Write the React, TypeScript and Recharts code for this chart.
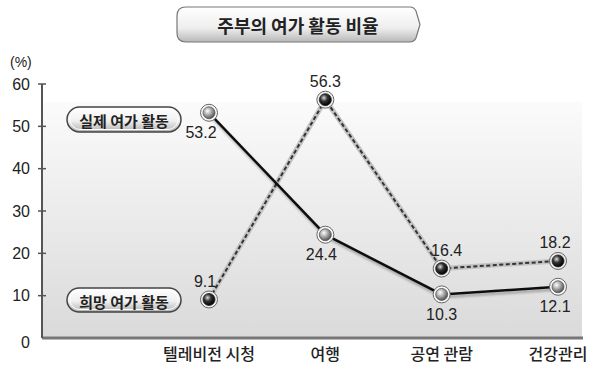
import { LineChart, Line, XAxis, YAxis, LabelList } from "recharts"

const categories = ["텔레비전 시청", "여행", "공연 관람", "건강관리"]
const actual = [53.2, 24.4, 10.3, 12.1]
const desired = [9.1, 56.3, 16.4, 18.2]
const yTicks = [0, 10, 20, 30, 40, 50, 60]

const title = "주부의 여가 활동 비율"
const actualName = "실제 여가 활동"
const desiredName = "희망 여가 활동"

// small horizontal nudges for value labels
const actualDx = [-8, -4, 0, -3]
const desiredDx = [-4, 0, 5, -3]

const data = categories.map((name, i) => ({
  name,
  actual: actual[i],
  desired: desired[i],
}))

const numFont = "'Liberation Sans', Arial, sans-serif"
const krFont = "'Noto Sans CJK KR', 'Noto Sans', sans-serif"

function YTick({ x, y, payload }: any) {
  const v = payload.value
  return (
    <g>
      {v !== 0 && <line x1={x - 4} x2={x + 4} y1={y} y2={y} stroke="#555" strokeWidth={1.5} />}
      <text
        x={x - 12}
        y={v === 0 ? y + 4 : y}
        textAnchor="end"
        dominantBaseline="central"
        fontSize={16}
        fontFamily={numFont}
        fill="#222"
      >
        {v}
      </text>
    </g>
  )
}

function XTick({ x, y, payload }: any) {
  return (
    <text
      x={x}
      y={y + 15}
      textAnchor="middle"
      dominantBaseline="central"
      fontSize={16}
      fontWeight={500}
      fontFamily={krFont}
      fill="#222"
    >
      {payload.value}
    </text>
  )
}

function ActualDot({ cx, cy }: any) {
  return (
    <g>
      <circle cx={cx} cy={cy} r={8.5} fill="#fafafa" stroke="#666" strokeWidth={1} />
      <circle cx={cx} cy={cy} r={6} fill="url(#sphereLight)" stroke="#555" strokeWidth={0.8} />
    </g>
  )
}

function DesiredDot({ cx, cy }: any) {
  return (
    <g>
      <circle cx={cx} cy={cy} r={8.5} fill="#eee" stroke="#666" strokeWidth={1} />
      <circle cx={cx} cy={cy} r={6} fill="url(#sphereDark)" stroke="#222" strokeWidth={0.8} />
    </g>
  )
}

function makeLabel(below: boolean, dxs: number[]) {
  return (props: any) => {
    const { x, y, value, index } = props
    return (
      <text
        x={x + (dxs[index] ?? 0)}
        y={below ? y + 20 : y - 18}
        textAnchor="middle"
        dominantBaseline="central"
        fontSize={16}
        fontFamily={numFont}
        fill="#222"
      >
        {String(value)}
      </text>
    )
  }
}

function Pill({ x, y, w, h, text }: { x: number; y: number; w: number; h: number; text: string }) {
  return (
    <g>
      <rect x={x} y={y} width={w} height={h} rx={h / 2} fill="url(#pillGrad)" stroke="#444" strokeWidth={1.5} />
      <rect x={x + 3} y={y + 2.5} width={w - 6} height={h - 5} rx={(h - 5) / 2} fill="none" stroke="#fff" strokeWidth={1} />
      <text
        x={x + w / 2}
        y={y + h / 2 + 1}
        textAnchor="middle"
        dominantBaseline="central"
        fontSize={15}
        fontWeight="bold"
        fontFamily={krFont}
        fill="#222"
      >
        {text}
      </text>
    </g>
  )
}

export default function App() {
  return (
    <div style={{ position: "relative", width: 600, height: 376, background: "#fff" }}>
      <style>{"body{margin:0}"}</style>
      {/* plot background panel */}
      <svg width={600} height={376} style={{ position: "absolute", left: 0, top: 0 }}>
        <defs>
          <linearGradient id="bgGrad" x1="0" y1="0" x2="0" y2="1">
            <stop offset="0%" stopColor="#fbfbfb" />
            <stop offset="100%" stopColor="#dadada" />
          </linearGradient>
        </defs>
        <rect x={43} y={102} width={539} height={235} fill="url(#bgGrad)" />
      </svg>
      <div style={{ position: "absolute", left: 0, top: 0 }}>
        <LineChart width={600} height={376} data={data} margin={{ top: 84, right: 17, bottom: 0, left: 0 }}>
          <defs>
            <radialGradient id="sphereLight" cx="38%" cy="35%" r="65%">
              <stop offset="0%" stopColor="#fff" />
              <stop offset="60%" stopColor="#999" />
              <stop offset="100%" stopColor="#555" />
            </radialGradient>
            <radialGradient id="sphereDark" cx="38%" cy="35%" r="65%">
              <stop offset="0%" stopColor="#ddd" />
              <stop offset="45%" stopColor="#333" />
              <stop offset="100%" stopColor="#000" />
            </radialGradient>
            <filter id="lineShadow" x="-10%" y="-10%" width="120%" height="130%">
              <feDropShadow dx="1" dy="2.5" stdDeviation="1" floodColor="#000" floodOpacity="0.3" />
            </filter>
          </defs>
          <XAxis
            dataKey="name"
            height={38}
            padding={{ left: 167, right: 25 }}
            axisLine={{ stroke: "#777", strokeWidth: 3 }}
            tickLine={false}
            tickSize={0}
            tickMargin={0}
            tick={<XTick />}
            interval={0}
          />
          <YAxis
            width={42}
            domain={[0, 60]}
            ticks={yTicks}
            axisLine={{ stroke: "#555", strokeWidth: 2 }}
            tickLine={false}
            tickSize={0}
            tickMargin={0}
            tick={<YTick />}
            interval={0}
          />
          <Line
            dataKey="desired"
            stroke="#c4c4c4"
            strokeWidth={5}
            dot={false}
            activeDot={false}
            isAnimationActive={false}
          />
          <Line
            dataKey="desired"
            stroke="#333"
            strokeWidth={2}
            strokeDasharray="4 2.5"
            dot={<DesiredDot />}
            activeDot={false}
            isAnimationActive={false}
          >
            <LabelList dataKey="desired" content={makeLabel(false, desiredDx)} />
          </Line>
          <Line
            dataKey="actual"
            stroke="#111"
            strokeWidth={2.5}
            filter="url(#lineShadow)"
            dot={<ActualDot />}
            activeDot={false}
            isAnimationActive={false}
          >
            <LabelList dataKey="actual" content={makeLabel(true, actualDx)} />
          </Line>
        </LineChart>
      </div>
      <svg width={600} height={376} style={{ position: "absolute", left: 0, top: 0, pointerEvents: "none" }}>
        <defs>
          <linearGradient id="titleGrad" x1="0" y1="0" x2="0" y2="1">
            <stop offset="0%" stopColor="#ffffff" />
            <stop offset="60%" stopColor="#eeeeee" />
            <stop offset="100%" stopColor="#b8b8b8" />
          </linearGradient>
          <linearGradient id="pillGrad" x1="0" y1="0" x2="0" y2="1">
            <stop offset="0%" stopColor="#ffffff" />
            <stop offset="55%" stopColor="#f0f0f0" />
            <stop offset="100%" stopColor="#b0b0b0" />
          </linearGradient>
        </defs>
        <path
          d="M186,7 H410 Q414,7 416,11 L420,24.5 L416,38 Q414,42 410,42 H186 Q177,42 177,33 V16 Q177,7 186,7 Z"
          fill="url(#titleGrad)"
          stroke="#777"
          strokeWidth={1.2}
        />
        <text
          x={298}
          y={25}
          textAnchor="middle"
          dominantBaseline="central"
          fontSize={18}
          fontWeight="bold"
          fontFamily={krFont}
          fill="#222"
        >
          {title}
        </text>
        <text x={10} y={62} dominantBaseline="central" fontSize={14} fontFamily={numFont} fill="#222">
          (%)
        </text>
        <Pill x={67} y={107} w={114} h={25} text={actualName} />
        <Pill x={67} y={288} w={114} h={24} text={desiredName} />
      </svg>
    </div>
  )
}
